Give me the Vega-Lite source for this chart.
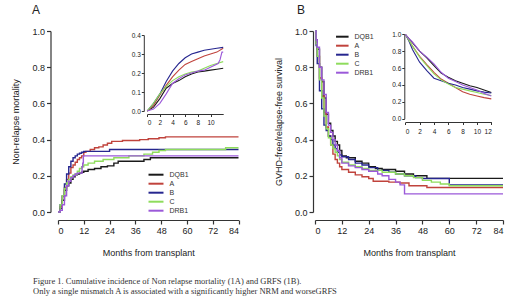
{
  "$schema": "https://vega.github.io/schema/vega-lite/v6.json",
  "padding": {"left": 11, "top": 4, "right": 0, "bottom": 0},
  "spacing": 32,
  "title": {
    "text": ["Figure 1. Cumulative incidence of Non relapse mortality (1A) and GRFS (1B).", "Only a single mismatch A is associated with a significantly higher NRM and worseGRFS"],
    "orient": "bottom", "anchor": "start", "frame": "bounds", "dx": 21, "offset": 20,
    "font": "Liberation Serif", "fontSize": 8.5, "fontWeight": "normal", "lineHeight": 10, "color": "#333"
  },
  "datasets": {
    "nrm": [
      {"g":"DQB1","m":0,"v":0},{"g":"DQB1","m":1,"v":0.02},{"g":"DQB1","m":2,"v":0.065},{"g":"DQB1","m":3,"v":0.12},{"g":"DQB1","m":4,"v":0.145},{"g":"DQB1","m":5,"v":0.16},{"g":"DQB1","m":6,"v":0.18},{"g":"DQB1","m":7,"v":0.195},{"g":"DQB1","m":8,"v":0.205},{"g":"DQB1","m":9,"v":0.21},{"g":"DQB1","m":10,"v":0.215},{"g":"DQB1","m":11,"v":0.22},{"g":"DQB1","m":12,"v":0.225},{"g":"DQB1","m":14,"v":0.235},{"g":"DQB1","m":17,"v":0.24},{"g":"DQB1","m":20,"v":0.25},{"g":"DQB1","m":23,"v":0.255},{"g":"DQB1","m":26,"v":0.27},{"g":"DQB1","m":28,"v":0.28},{"g":"DQB1","m":40,"v":0.29},{"g":"DQB1","m":43,"v":0.3},{"g":"DQB1","m":84,"v":0.3},
      {"g":"A","m":0,"v":0},{"g":"A","m":1,"v":0.03},{"g":"A","m":2,"v":0.085},{"g":"A","m":3,"v":0.135},{"g":"A","m":4,"v":0.18},{"g":"A","m":5,"v":0.215},{"g":"A","m":6,"v":0.245},{"g":"A","m":7,"v":0.26},{"g":"A","m":8,"v":0.275},{"g":"A","m":9,"v":0.29},{"g":"A","m":10,"v":0.3},{"g":"A","m":11,"v":0.31},{"g":"A","m":12,"v":0.33},{"g":"A","m":13,"v":0.335},{"g":"A","m":15,"v":0.345},{"g":"A","m":17,"v":0.355},{"g":"A","m":19,"v":0.36},{"g":"A","m":21,"v":0.37},{"g":"A","m":23,"v":0.38},{"g":"A","m":25,"v":0.39},{"g":"A","m":30,"v":0.395},{"g":"A","m":38,"v":0.4},{"g":"A","m":42,"v":0.405},{"g":"A","m":47,"v":0.41},{"g":"A","m":50,"v":0.415},{"g":"A","m":84,"v":0.415},
      {"g":"B","m":0,"v":0},{"g":"B","m":1,"v":0.04},{"g":"B","m":2,"v":0.09},{"g":"B","m":3,"v":0.155},{"g":"B","m":4,"v":0.21},{"g":"B","m":5,"v":0.25},{"g":"B","m":6,"v":0.28},{"g":"B","m":7,"v":0.3},{"g":"B","m":8,"v":0.31},{"g":"B","m":9,"v":0.32},{"g":"B","m":10,"v":0.325},{"g":"B","m":11,"v":0.33},{"g":"B","m":12,"v":0.335},{"g":"B","m":24,"v":0.345},{"g":"B","m":84,"v":0.345},
      {"g":"C","m":0,"v":0},{"g":"C","m":1,"v":0.04},{"g":"C","m":2,"v":0.09},{"g":"C","m":3,"v":0.13},{"g":"C","m":4,"v":0.16},{"g":"C","m":5,"v":0.18},{"g":"C","m":6,"v":0.195},{"g":"C","m":7,"v":0.205},{"g":"C","m":8,"v":0.21},{"g":"C","m":9,"v":0.225},{"g":"C","m":10,"v":0.24},{"g":"C","m":11,"v":0.25},{"g":"C","m":12,"v":0.26},{"g":"C","m":14,"v":0.27},{"g":"C","m":17,"v":0.28},{"g":"C","m":21,"v":0.29},{"g":"C","m":26,"v":0.3},{"g":"C","m":33,"v":0.31},{"g":"C","m":40,"v":0.32},{"g":"C","m":44,"v":0.33},{"g":"C","m":47,"v":0.34},{"g":"C","m":50,"v":0.345},{"g":"C","m":78,"v":0.355},{"g":"C","m":84,"v":0.355},
      {"g":"DRB1","m":0,"v":0},{"g":"DRB1","m":1,"v":0.01},{"g":"DRB1","m":2,"v":0.04},{"g":"DRB1","m":3,"v":0.09},{"g":"DRB1","m":4,"v":0.145},{"g":"DRB1","m":5,"v":0.17},{"g":"DRB1","m":6,"v":0.19},{"g":"DRB1","m":7,"v":0.2},{"g":"DRB1","m":8,"v":0.21},{"g":"DRB1","m":9,"v":0.215},{"g":"DRB1","m":11.2,"v":0.25},{"g":"DRB1","m":11.5,"v":0.27},{"g":"DRB1","m":11.8,"v":0.31},{"g":"DRB1","m":12,"v":0.31},{"g":"DRB1","m":84,"v":0.31}
    ],
    "grfs": [
      {"g":"DQB1","m":0,"v":1},{"g":"DQB1","m":0.5,"v":0.95},{"g":"DQB1","m":1,"v":0.9},{"g":"DQB1","m":2,"v":0.8},{"g":"DQB1","m":3,"v":0.72},{"g":"DQB1","m":4,"v":0.63},{"g":"DQB1","m":5,"v":0.54},{"g":"DQB1","m":6,"v":0.49},{"g":"DQB1","m":7,"v":0.45},{"g":"DQB1","m":8,"v":0.42},{"g":"DQB1","m":9,"v":0.39},{"g":"DQB1","m":10,"v":0.37},{"g":"DQB1","m":11,"v":0.34},{"g":"DQB1","m":12,"v":0.31},{"g":"DQB1","m":14,"v":0.3},{"g":"DQB1","m":18,"v":0.28},{"g":"DQB1","m":21,"v":0.27},{"g":"DQB1","m":24,"v":0.25},{"g":"DQB1","m":27,"v":0.24},{"g":"DQB1","m":30,"v":0.235},{"g":"DQB1","m":36,"v":0.225},{"g":"DQB1","m":40,"v":0.21},{"g":"DQB1","m":44,"v":0.2},{"g":"DQB1","m":50,"v":0.186},{"g":"DQB1","m":84,"v":0.186},
      {"g":"A","m":0,"v":1},{"g":"A","m":0.5,"v":0.93},{"g":"A","m":1,"v":0.86},{"g":"A","m":2,"v":0.74},{"g":"A","m":3,"v":0.64},{"g":"A","m":4,"v":0.55},{"g":"A","m":5,"v":0.47},{"g":"A","m":6,"v":0.42},{"g":"A","m":7,"v":0.37},{"g":"A","m":8,"v":0.32},{"g":"A","m":9,"v":0.29},{"g":"A","m":10,"v":0.27},{"g":"A","m":11,"v":0.25},{"g":"A","m":12,"v":0.235},{"g":"A","m":15,"v":0.22},{"g":"A","m":18,"v":0.205},{"g":"A","m":21,"v":0.195},{"g":"A","m":24,"v":0.185},{"g":"A","m":26,"v":0.17},{"g":"A","m":33,"v":0.165},{"g":"A","m":38,"v":0.16},{"g":"A","m":42,"v":0.145},{"g":"A","m":50,"v":0.135},{"g":"A","m":84,"v":0.135},
      {"g":"B","m":0,"v":1},{"g":"B","m":0.5,"v":0.92},{"g":"B","m":1,"v":0.82},{"g":"B","m":2,"v":0.67},{"g":"B","m":3,"v":0.57},{"g":"B","m":4,"v":0.48},{"g":"B","m":5,"v":0.45},{"g":"B","m":6,"v":0.42},{"g":"B","m":7,"v":0.4},{"g":"B","m":8,"v":0.37},{"g":"B","m":9,"v":0.35},{"g":"B","m":10,"v":0.33},{"g":"B","m":11,"v":0.315},{"g":"B","m":12,"v":0.305},{"g":"B","m":15,"v":0.29},{"g":"B","m":18,"v":0.27},{"g":"B","m":21,"v":0.26},{"g":"B","m":24,"v":0.245},{"g":"B","m":28,"v":0.23},{"g":"B","m":33,"v":0.22},{"g":"B","m":36,"v":0.21},{"g":"B","m":40,"v":0.2},{"g":"B","m":45,"v":0.19},{"g":"B","m":48,"v":0.185},{"g":"B","m":60,"v":0.15},{"g":"B","m":84,"v":0.15},
      {"g":"C","m":0,"v":1},{"g":"C","m":0.5,"v":0.93},{"g":"C","m":1,"v":0.86},{"g":"C","m":2,"v":0.73},{"g":"C","m":3,"v":0.63},{"g":"C","m":4,"v":0.53},{"g":"C","m":5,"v":0.46},{"g":"C","m":6,"v":0.41},{"g":"C","m":7,"v":0.37},{"g":"C","m":8,"v":0.35},{"g":"C","m":9,"v":0.33},{"g":"C","m":10,"v":0.31},{"g":"C","m":11,"v":0.29},{"g":"C","m":12,"v":0.275},{"g":"C","m":15,"v":0.26},{"g":"C","m":18,"v":0.25},{"g":"C","m":21,"v":0.24},{"g":"C","m":24,"v":0.23},{"g":"C","m":30,"v":0.22},{"g":"C","m":36,"v":0.21},{"g":"C","m":40,"v":0.2},{"g":"C","m":44,"v":0.19},{"g":"C","m":48,"v":0.175},{"g":"C","m":52,"v":0.165},{"g":"C","m":56,"v":0.155},{"g":"C","m":60,"v":0.145},{"g":"C","m":84,"v":0.145},
      {"g":"DRB1","m":0,"v":1},{"g":"DRB1","m":0.5,"v":0.95},{"g":"DRB1","m":1,"v":0.91},{"g":"DRB1","m":2,"v":0.8},{"g":"DRB1","m":3,"v":0.73},{"g":"DRB1","m":4,"v":0.65},{"g":"DRB1","m":5,"v":0.55},{"g":"DRB1","m":6,"v":0.48},{"g":"DRB1","m":7,"v":0.44},{"g":"DRB1","m":8,"v":0.4},{"g":"DRB1","m":9,"v":0.37},{"g":"DRB1","m":10,"v":0.34},{"g":"DRB1","m":11,"v":0.3},{"g":"DRB1","m":12,"v":0.27},{"g":"DRB1","m":15,"v":0.255},{"g":"DRB1","m":18,"v":0.245},{"g":"DRB1","m":21,"v":0.235},{"g":"DRB1","m":24,"v":0.225},{"g":"DRB1","m":28,"v":0.21},{"g":"DRB1","m":30,"v":0.2},{"g":"DRB1","m":33,"v":0.18},{"g":"DRB1","m":36,"v":0.165},{"g":"DRB1","m":38,"v":0.15},{"g":"DRB1","m":40,"v":0.1},{"g":"DRB1","m":84,"v":0.1}
    ]
  },
  "hconcat": [
    {
      "title": {"text": "A", "anchor": "start", "frame": "group", "dx": -26, "offset": 10, "fontSize": 12, "fontWeight": "normal", "font": "Liberation Sans", "color": "#222"},
      "width": 180.5,
      "height": 181,
      "data": {"name": "nrm"},
      "encoding": {
        "color": {"field": "g", "type": "nominal", "sort": ["DQB1","A","B","C","DRB1"],
          "scale": {"domain": ["DQB1","A","B","C","DRB1"], "range": ["#1a1a1a","#c0433c","#26268f","#8edc5c","#9b59d9"]},
          "legend": {"orient": "none", "legendX": 93.5, "legendY": 139.2, "symbolType": "M-2.14,0H2.14", "symbolSize": 49, "rowPadding": 0, "labelOffset": 9}}
      },
      "layer": [
        {
          "mark": {"type": "line", "interpolate": "step-after", "strokeWidth": 1.4},
          "encoding": {
            "x": {"field": "m", "type": "quantitative", "scale": {"domain": [0, 84], "nice": false},
              "axis": {"orient": "bottom", "values": [0,12,24,36,48,60,72,84], "offset": 8, "title": "Months from transplant", "titlePadding": 13}},
            "y": {"field": "v", "type": "quantitative", "scale": {"domain": [0, 1]},
              "axis": {"orient": "left", "values": [0,0.2,0.4,0.6,0.8,1], "format": ".1f", "offset": 7.5, "title": "Non-relapse mortality", "titlePadding": 11}}
          }
        },
        {
          "transform": [{"filter": "datum.m <= 12"}],
          "mark": {"type": "line", "interpolate": "linear", "strokeWidth": 1.1},
          "encoding": {
            "x": {"field": "m", "type": "quantitative", "scale": {"domain": [0, 12], "range": [89.2, 165.2], "nice": false},
              "axis": {"orient": "bottom", "values": [0,2,4,6,8,10], "offset": -98, "title": null, "labelFontSize": 6.5, "tickSize": 2.5, "labelPadding": 2.5, "domainWidth": 1, "tickWidth": 1}},
            "y": {"field": "v", "type": "quantitative", "scale": {"domain": [0, 0.4], "range": [80, 4]},
              "axis": {"orient": "left", "values": [0,0.1,0.2,0.3,0.4], "format": ".1f", "offset": -85.8, "title": null, "labelFontSize": 6.5, "tickSize": 2.5, "labelPadding": 1, "domainWidth": 1, "tickWidth": 1}}
          }
        }
      ],
      "resolve": {"scale": {"x": "independent", "y": "independent"}, "axis": {"x": "independent", "y": "independent"}}
    },
    {
      "title": {"text": "B", "anchor": "start", "frame": "group", "dx": -18, "offset": 10, "fontSize": 12, "fontWeight": "normal", "font": "Liberation Sans", "color": "#222"},
      "width": 188,
      "height": 181,
      "data": {"name": "grfs"},
      "encoding": {
        "color": {"field": "g", "type": "nominal", "sort": ["DQB1","A","B","C","DRB1"],
          "scale": {"domain": ["DQB1","A","B","C","DRB1"], "range": ["#1a1a1a","#c0433c","#26268f","#8edc5c","#9b59d9"]},
          "legend": {"orient": "none", "legendX": 22.8, "legendY": 1.2, "symbolType": "M-1.79,0H1.79", "symbolSize": 49, "rowPadding": 0, "labelOffset": 7.7}}
      },
      "layer": [
        {
          "mark": {"type": "line", "interpolate": "step-after", "strokeWidth": 1.4},
          "encoding": {
            "x": {"field": "m", "type": "quantitative", "scale": {"domain": [0, 84], "nice": false},
              "axis": {"orient": "bottom", "values": [0,12,24,36,48,60,72,84], "offset": 8, "title": "Months from transplant", "titlePadding": 13}},
            "y": {"field": "v", "type": "quantitative", "scale": {"domain": [0, 1]},
              "axis": {"orient": "left", "values": [0,0.2,0.4,0.6,0.8,1], "format": ".1f", "offset": 2, "title": "GVHD-free/relapse-free survival", "titlePadding": 11}}
          }
        },
        {
          "transform": [{"filter": "datum.m <= 12"}],
          "mark": {"type": "line", "interpolate": "linear", "strokeWidth": 1.1},
          "encoding": {
            "x": {"field": "m", "type": "quantitative", "scale": {"domain": [0, 12], "range": [90.3, 176.3], "nice": false},
              "axis": {"orient": "bottom", "values": [0,2,4,6,8,10,12], "offset": -90, "title": null, "labelFontSize": 6.5, "tickSize": 2.5, "labelPadding": 4, "domainWidth": 1, "tickWidth": 1}},
            "y": {"field": "v", "type": "quantitative", "scale": {"domain": [0, 1], "range": [87.7, 3.3]},
              "axis": {"orient": "left", "values": [0,0.2,0.4,0.6,0.8,1], "format": ".1f", "offset": -89.3, "title": null, "labelFontSize": 6.5, "tickSize": 2.5, "labelPadding": 1, "domainWidth": 1, "tickWidth": 1}}
          }
        }
      ],
      "resolve": {"scale": {"x": "independent", "y": "independent"}, "axis": {"x": "independent", "y": "independent"}}
    }
  ],
  "resolve": {"scale": {"color": "independent"}, "legend": {"color": "independent"}},
  "config": {
    "view": {"stroke": null},
    "axis": {"grid": false, "domainColor": "#333", "tickColor": "#333", "labelColor": "#222", "titleColor": "#222",
      "labelFont": "Liberation Sans", "titleFont": "Liberation Sans", "labelFontSize": 9, "titleFontSize": 9,
      "titleFontWeight": "normal", "tickSize": 4, "labelPadding": 2, "domainWidth": 1.2, "tickWidth": 1.2},
    "legend": {"title": null, "symbolType": "stroke", "symbolSize": 49, "symbolStrokeWidth": 2, "labelFont": "Liberation Sans", "labelFontSize": 7, "labelColor": "#333", "padding": 0}
  }
}
